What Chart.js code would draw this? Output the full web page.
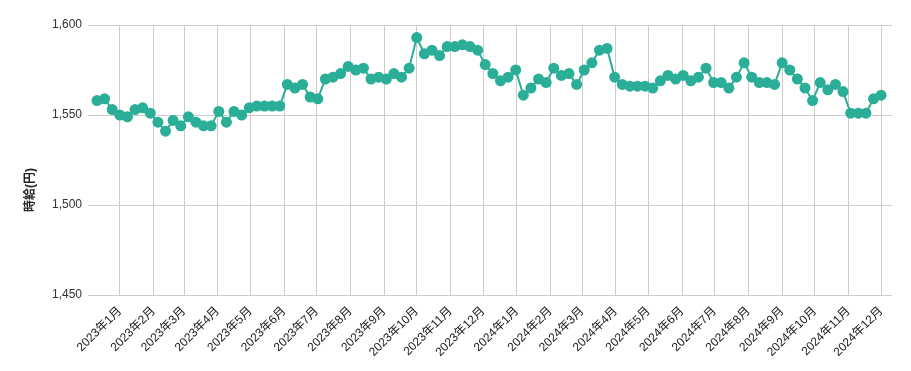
<!DOCTYPE html>
<html>
<head>
<meta charset="utf-8">
<script src="https://cdn.jsdelivr.net/npm/chart.js@4.4.1/dist/chart.umd.min.js"></script>
<style>
    html, body { margin: 0; padding: 0; background: #fff; }
    #wrap { width: 911px; height: 371px; }
</style>
</head>
<body>
<div id="wrap"><canvas id="wageChart" width="911" height="371"></canvas></div>
<script>
// weekly observations, first one on 2022-12-11
const firstWeek = '2022-12-11';
const wages = [
    1558, 1559, 1553, 1550, 1549, 1553, 1554, 1551, 1546, 1541,
    1547, 1544, 1549, 1546, 1544, 1544, 1552, 1546, 1552, 1550,
    1554, 1555, 1555, 1555, 1555, 1567, 1565, 1567, 1560, 1559,
    1570, 1571, 1573, 1577, 1575, 1576, 1570, 1571, 1570, 1573,
    1571, 1576, 1593, 1584, 1586, 1583, 1588, 1588, 1589, 1588,
    1586, 1578, 1573, 1569, 1571, 1575, 1561, 1565, 1570, 1568,
    1576, 1572, 1573, 1567, 1575, 1579, 1586, 1587, 1571, 1567,
    1566, 1566, 1566, 1565, 1569, 1572, 1570, 1572, 1569, 1571,
    1576, 1568, 1568, 1565, 1571, 1579, 1571, 1568, 1568, 1567,
    1579, 1575, 1570, 1565, 1558, 1568, 1564, 1567, 1563, 1551,
    1551, 1551, 1559, 1561
];
const monthLabels = [
    '2023年1月', '2023年2月', '2023年3月', '2023年4月', '2023年5月', '2023年6月',
    '2023年7月', '2023年8月', '2023年9月', '2023年10月', '2023年11月', '2023年12月',
    '2024年1月', '2024年2月', '2024年3月', '2024年4月', '2024年5月', '2024年6月',
    '2024年7月', '2024年8月', '2024年9月', '2024年10月', '2024年11月', '2024年12月'
];
const yTitle = '時給(円)';

const DAY = 86400000;
const origin = Date.UTC(2023, 0, 1);
const dayNum = (y, m, d) => (Date.UTC(y, m, d) - origin) / DAY;

const [fy, fm, fd] = firstWeek.split('-').map(Number);
const start = dayNum(fy, fm - 1, fd);
const points = wages.map((v, i) => ({ x: start + i * 7, y: v }));
const monthTicks = monthLabels.map((_, i) => dayNum(2023 + Math.floor(i / 12), i % 12, 1));

const fontFamily = '"Liberation Sans", Arial, "Noto Sans CJK JP", sans-serif';
const lineColor = '#2bae98';

// y title is centred on the canvas, not on the plot area
const yTitlePlugin = {
    id: 'yTitle',
    afterDraw(chart) {
        const ctx = chart.ctx;
        ctx.save();
        ctx.translate(31, 190);
        ctx.rotate(-Math.PI / 2);
        ctx.font = 'bold 12px ' + fontFamily;
        ctx.fillStyle = '#222';
        ctx.textAlign = 'center';
        ctx.textBaseline = 'middle';
        ctx.fillText(yTitle, 0, 0);
        ctx.restore();
    }
};

new Chart(document.getElementById('wageChart'), {
    type: 'line',
    data: {
        datasets: [{
            data: points,
            borderColor: lineColor,
            backgroundColor: lineColor,
            borderWidth: 2,
            pointRadius: 5.5,
            pointBorderWidth: 0,
            pointHoverRadius: 6,
            tension: 0,
            clip: false
        }]
    },
    options: {
        responsive: false,
        animation: false,
        layout: { padding: { top: 25, right: 19, bottom: 0, left: 0 } },
        plugins: {
            legend: { display: false },
            tooltip: { enabled: false }
        },
        scales: {
            x: {
                type: 'linear',
                min: start,
                max: dayNum(2024, 11, 11),
                afterBuildTicks: (scale) => {
                    scale.ticks = monthTicks.map(v => ({ value: v }));
                },
                afterFit: (scale) => { scale.height = 76; },
                border: { display: false },
                grid: { color: '#cccccc', drawTicks: false },
                ticks: {
                    autoSkip: false,
                    minRotation: 45,
                    maxRotation: 45,
                    padding: 9,
                    color: '#222',
                    font: { family: fontFamily, size: 12 },
                    callback: (value, index) => monthLabels[index]
                }
            },
            y: {
                min: 1450,
                max: 1600,
                afterFit: (scale) => { scale.width = 97; },
                border: { display: false },
                grid: { color: '#cccccc', tickLength: 9 },
                ticks: {
                    stepSize: 50,
                    padding: 6,
                    color: '#333',
                    font: { family: fontFamily, size: 12 },
                    callback: (v) => v.toLocaleString('en-US')
                }
            }
        }
    },
    plugins: [yTitlePlugin]
});
</script>
</body>
</html>
